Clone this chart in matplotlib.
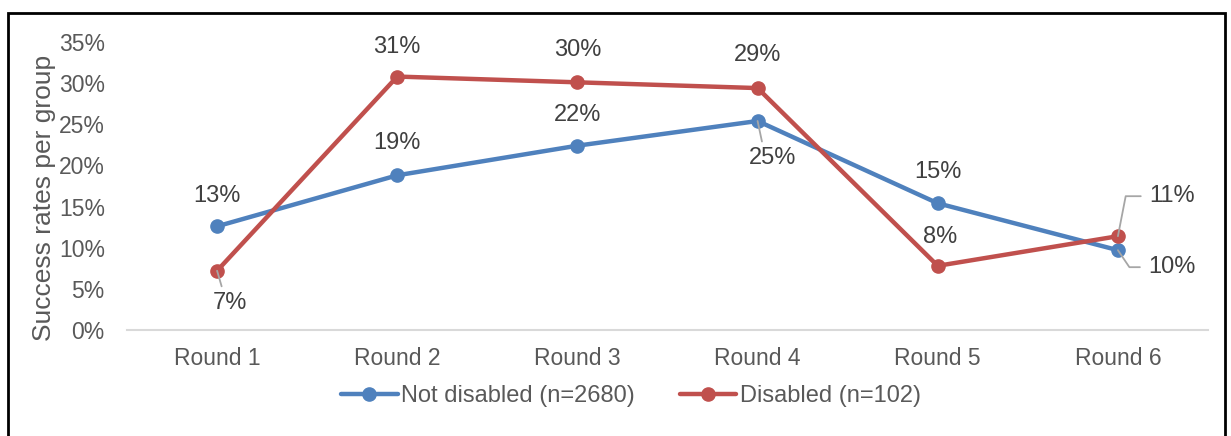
import matplotlib
matplotlib.use("Agg")
import matplotlib.pyplot as plt
from matplotlib.patches import Rectangle
from matplotlib.ticker import FuncFormatter

rounds = ["Round 1", "Round 2", "Round 3", "Round 4", "Round 5", "Round 6"]
not_disabled = [12.6, 18.8, 22.4, 25.4, 15.4, 9.7]
disabled = [7.2, 30.8, 30.1, 29.4, 7.8, 11.4]
series_names = ["Not disabled (n=2680)", "Disabled (n=102)"]

# label offsets (pixels) for each point: (dx, dy)
nd_offsets = [(0, 30), (0, 32), (0, 31), (15, -37), (0, 31), (54, -17)]
d_offsets = [(13, -32), (0, 30), (0, 32), (0, 33), (2, 29), (54, 40)]

blue = "#4F81BD"
red = "#C0504D"
txt = "#404040"
tick_col = "#595959"
lead = "#A6A6A6"

plt.rcParams["font.family"] = ["Liberation Sans", "DejaVu Sans"]

fig = plt.figure(figsize=(12.31, 4.36), dpi=100)
ax = fig.add_axes([127 / 1231, 1 - 330 / 436, (1208 - 127) / 1231, (330 - 42) / 436])

x = list(range(len(rounds)))
ax.plot(x, not_disabled, color=blue, lw=3.2, marker="o", ms=9.5, label=series_names[0],
        solid_capstyle="round", zorder=3)
ax.plot(x, disabled, color=red, lw=3.2, marker="o", ms=9.5, label=series_names[1],
        solid_capstyle="round", zorder=3)

ax.set_xlim(-0.5, len(rounds) - 0.5)
ax.set_ylim(0, 35)
ax.set_yticks(range(0, 36, 5))
ax.yaxis.set_major_formatter(FuncFormatter(lambda v, p: f"{v:.0f}%"))
ax.set_xticks(x)
ax.set_xticklabels(rounds)
ax.tick_params(axis="both", length=0, labelsize=16.5, colors=tick_col)
ax.tick_params(axis="y", pad=16)
ax.tick_params(axis="x", pad=12)
for s in ["top", "right", "left"]:
    ax.spines[s].set_visible(False)
ax.spines["bottom"].set_color("#D9D9D9")
ax.spines["bottom"].set_linewidth(1.5)
ax.set_ylabel("Success rates per group", fontsize=19, color=tick_col)
ax.yaxis.set_label_coords(-0.066, 0.46)


def label(xi, yi, off, elbow=None, straight=False):
    kw = dict(xy=(xi, yi), xytext=off, textcoords="offset pixels",
              ha="center", va="center", fontsize=17, color=txt)
    if elbow is not None:
        kw["arrowprops"] = dict(arrowstyle="-", color=lead, lw=1.3, relpos=(0, 0.5),
                                shrinkA=4, shrinkB=0,
                                connectionstyle=f"angle,angleA=0,angleB={elbow},rad=0")
    elif straight:
        kw["arrowprops"] = dict(arrowstyle="-", color=lead, lw=1.3, relpos=(0.3, 1),
                                shrinkA=2, shrinkB=0)
    ax.annotate(f"{round(yi):d}%", **kw)


for i, v in enumerate(not_disabled):
    if i == 5:
        label(i, v, nd_offsets[i], elbow=-56)
    elif i == 3:
        label(i, v, nd_offsets[i], straight=True)
    else:
        label(i, v, nd_offsets[i])
for i, v in enumerate(disabled):
    if i == 5:
        label(i, v, d_offsets[i], elbow=79)
    elif i == 0:
        label(i, v, d_offsets[i], straight=True)
    else:
        label(i, v, d_offsets[i])

leg = fig.legend(loc="center", bbox_to_anchor=(631 / 1231, 1 - 396 / 436), ncol=2, frameon=False,
                 fontsize=17, handlelength=2.4, handletextpad=0.15, columnspacing=1.9)
for t in leg.get_texts():
    t.set_color(tick_col)

fig.patches.append(Rectangle((8 / 1231, -0.05), (1225 - 8) / 1231, 1.05 - 13 / 436,
                             transform=fig.transFigure, fill=False, ec="black", lw=2))

fig.savefig("out.png", dpi=100)
